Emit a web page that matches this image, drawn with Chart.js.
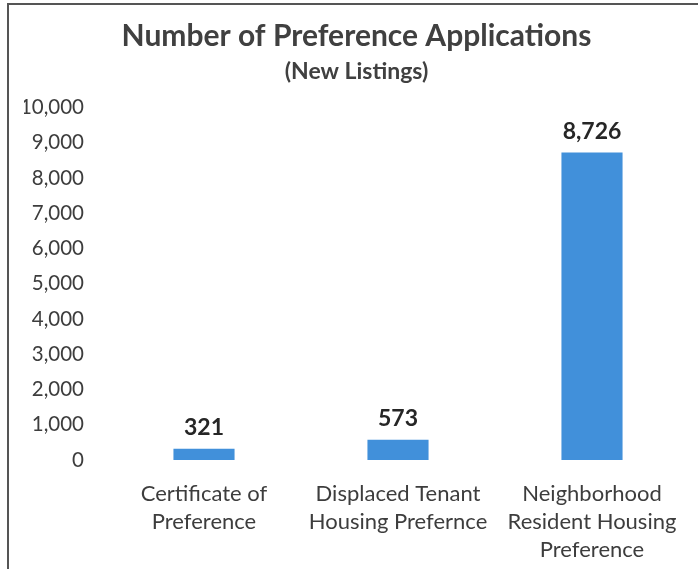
<!DOCTYPE html>
<html>
<head>
<meta charset="utf-8">
<script src="https://cdn.jsdelivr.net/npm/chart.js@4/dist/chart.umd.min.js"></script>
<style>
  html, body { margin: 0; padding: 0; background: #ffffff; }
  #wrap { position: relative; width: 698px; height: 569px; }
</style>
</head>
<body>
<div id="wrap"><canvas id="c" width="698" height="569"></canvas></div>
<script>
const categories = [
  ["Certificate of", "Preference"],
  ["Displaced Tenant", "Housing Prefernce"],
  ["Neighborhood", "Resident Housing", "Preference"]
];
const applications = [321, 573, 8726];
const yTicks = [0, 1000, 2000, 3000, 4000, 5000, 6000, 7000, 8000, 9000, 10000];

const FONT = "Lato, 'Open Sans', sans-serif";
const TEXT = "#3d3d3d";

const frame = {
  id: "frame",
  beforeDraw(chart) {
    const ctx = chart.ctx;
    ctx.save();
    ctx.fillStyle = "#ffffff";
    ctx.fillRect(0, 0, chart.width, chart.height);
    ctx.strokeStyle = "#555555";
    ctx.lineWidth = 2;
    ctx.beginPath();
    ctx.moveTo(8, chart.height);
    ctx.lineTo(8, 4);
    ctx.lineTo(chart.width, 4);
    ctx.stroke();
    ctx.restore();
  }
};

const valueLabels = {
  id: "valueLabels",
  afterDatasetsDraw(chart) {
    const ctx = chart.ctx;
    const meta = chart.getDatasetMeta(0);
    ctx.save();
    ctx.font = "bold 23px " + FONT;
    ctx.fillStyle = "#262626";
    ctx.textAlign = "center";
    ctx.textBaseline = "middle";
    meta.data.forEach((bar, i) => {
      ctx.fillText(applications[i].toLocaleString("en-US"), bar.x, bar.y - 21);
    });
    ctx.restore();
  }
};

new Chart(document.getElementById("c"), {
  type: "bar",
  data: {
    labels: categories,
    datasets: [{
      data: applications,
      backgroundColor: "#4190da",
      borderWidth: 0,
      categoryPercentage: 1,
      barPercentage: 0.315
    }]
  },
  options: {
    responsive: false,
    animation: false,
    devicePixelRatio: 1,
    layout: { padding: { left: 24, right: 9, top: 0, bottom: 0 } },
    plugins: {
      legend: { display: false },
      tooltip: { enabled: false },
      title: {
        display: true,
        text: "Number of Preference Applications",
        color: "#404040",
        font: { family: FONT, size: 30, weight: "bold" },
        padding: { top: 18, bottom: 4 }
      },
      subtitle: {
        display: true,
        text: "(New Listings)",
        color: "#404040",
        font: { family: FONT, size: 23, weight: "bold" },
        padding: { top: 0, bottom: 22 }
      }
    },
    scales: {
      x: {
        grid: { display: false, drawTicks: false },
        border: { display: false },
        ticks: {
          color: TEXT,
          font: { family: FONT, size: 22, lineHeight: 1.273 },
          padding: 20,
          maxRotation: 0,
          autoSkip: false
        },
        afterFit(scale) { scale.height = 109; }
      },
      y: {
        min: 0,
        max: 10000,
        grid: { display: false, drawTicks: false },
        border: { display: false },
        afterBuildTicks(scale) { scale.ticks = yTicks.map(v => ({ value: v })); },
        ticks: {
          color: TEXT,
          font: { family: FONT, size: 20.5 },
          padding: 23,
          callback: (v) => v.toLocaleString("en-US")
        },
        afterFit(scale) { scale.width = 83; }
      }
    }
  },
  plugins: [frame, valueLabels]
});
</script>
</body>
</html>
